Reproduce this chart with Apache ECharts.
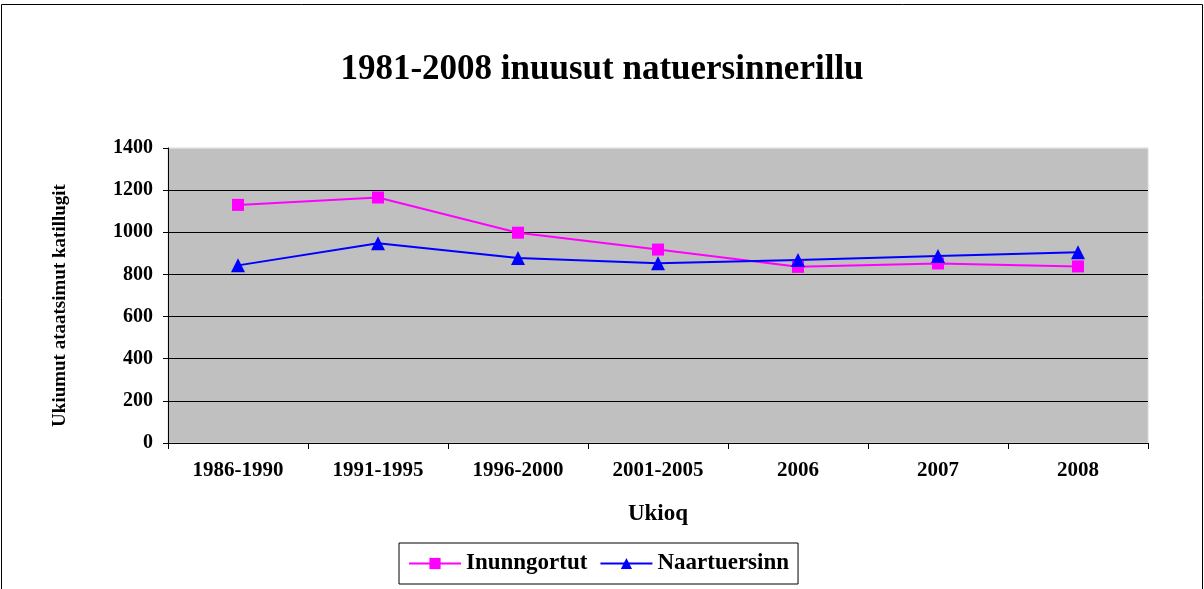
<!DOCTYPE html>
<html>
<head>
<meta charset="utf-8">
<script src="https://cdn.jsdelivr.net/npm/echarts@6/dist/echarts.min.js"></script>
<style>
html,body{margin:0;padding:0;background:#fff;}
#chart{width:1204px;height:589px;}
</style>
</head>
<body>
<div id="chart"></div>
<script>
const categories = ['1986-1990','1991-1995','1996-2000','2001-2005','2006','2007','2008'];
const inunngortut = [1130, 1165, 998, 918, 836, 852, 838];
const naartuersinn = [843, 948, 878, 853, 869, 887, 905];
const seriesNames = ['Inunngortut','Naartuersinn'];
const titleText = '1981-2008 inuusut natuersinnerillu';
const xAxisName = 'Ukioq';
const yAxisName = 'Ukiumut ataatsimut katillugit';

const FONT = '"Liberation Serif", "Times New Roman", serif';
const chart = echarts.init(document.getElementById('chart'), null, {renderer:'canvas'});
chart.setOption({
  animation:false,
  backgroundColor:'#fff',
  title:{
    text:titleText, left:'center', top:47,
    textStyle:{fontFamily:FONT, fontWeight:'bold', fontSize:35, color:'#000'}
  },
  graphic:[{
    type:'rect', shape:{x:1.5, y:4.5, width:1201, height:600},
    style:{fill:'none', stroke:'#000', lineWidth:1}, silent:true, z:-1
  }],
  legend:{
    bottom:5, left:399,
    data:seriesNames,
    itemWidth:52, itemHeight:14, itemGap:12,
    borderColor:'#000', borderWidth:1, padding:[9,9,9,9],
    textStyle:{fontFamily:FONT, fontWeight:'bold', fontSize:23, color:'#000'}
  },
  grid:{
    left:168, right:56, top:148, bottom:146,
    show:true, backgroundColor:'#C0C0C0', borderColor:'#d8d8d8', borderWidth:1
  },
  xAxis:{
    type:'category', data:categories, boundaryGap:true,
    name:xAxisName, nameLocation:'middle', nameGap:60,
    nameTextStyle:{fontFamily:FONT, fontWeight:'bold', fontSize:23, color:'#000'},
    axisLine:{lineStyle:{color:'#000', width:1}},
    axisTick:{show:true, alignWithLabel:false, length:6, lineStyle:{color:'#000'}},
    axisLabel:{fontFamily:FONT, fontWeight:'bold', fontSize:21, color:'#000', margin:17},
    splitLine:{show:false}
  },
  yAxis:{
    type:'value', min:0, max:1400, interval:200,
    name:yAxisName, nameLocation:'middle', nameRotate:90, nameGap:98,
    nameTextStyle:{fontFamily:FONT, fontWeight:'bold', fontSize:19, color:'#000', padding:[0,20,0,0]},
    axisLine:{show:true, lineStyle:{color:'#000', width:1}},
    axisTick:{show:true, length:5, lineStyle:{color:'#000'}},
    axisLabel:{fontFamily:FONT, fontWeight:'bold', fontSize:20, color:'#000', margin:15,
      formatter:function(v){return String(v);}},
    splitLine:{show:true, lineStyle:{color:['#000','#000','#000','#000','#000','#000','#000','#d8d8d8'], width:1}}
  },
  series:[
    {
      name:seriesNames[0], type:'line', data:inunngortut,
      symbol:'rect', symbolSize:12,
      lineStyle:{color:'#FF00FF', width:2},
      itemStyle:{color:'#FF00FF'}
    },
    {
      name:seriesNames[1], type:'line', data:naartuersinn,
      symbol:'triangle', symbolSize:14,
      lineStyle:{color:'#0000FF', width:2},
      itemStyle:{color:'#0000FF'}
    }
  ]
});
</script>
</body>
</html>
